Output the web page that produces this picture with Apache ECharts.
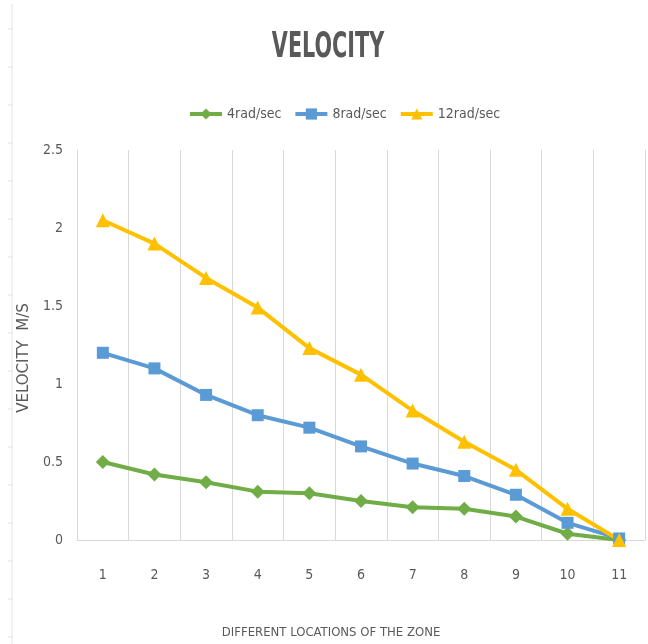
<!DOCTYPE html>
<html>
<head>
<meta charset="utf-8">
<script src="https://cdn.jsdelivr.net/npm/echarts@6/dist/echarts.min.js"></script>
<style>
  html, body { margin: 0; padding: 0; background: #fff; }
  #chart { width: 648px; height: 644px; }
</style>
</head>
<body>
<div id="chart"></div>
<script>
  // 數據：各區位置的速度 (m/s)
  var zones = ["1", "2", "3", "4", "5", "6", "7", "8", "9", "10", "11"];
  var v4 = [0.50, 0.42, 0.37, 0.31, 0.30, 0.25, 0.21, 0.20, 0.15, 0.04, 0.00];
  var v8 = [1.20, 1.10, 0.93, 0.80, 0.72, 0.60, 0.49, 0.41, 0.29, 0.11, 0.01];
  var v12 = [2.05, 1.90, 1.68, 1.49, 1.23, 1.06, 0.83, 0.63, 0.45, 0.20, 0.00];
  var seriesNames = ["4rad/sec", "8rad/sec", "12rad/sec"];

  var TXT = "#595959";
  var COND = "'DejaVu Sans Condensed', sans-serif";

  function line(name, data, color, symbol, size) {
    return {
      name: name, type: "line", data: data,
      symbol: symbol, symbolSize: size,
      lineStyle: { width: 4, color: color },
      itemStyle: { color: color }
    };
  }

  // 左側裝飾尺規 + 標題（窄體，用 scaleX 壓窄）
  var deco = [{ type: "line", shape: { x1: 12, y1: 4, x2: 12, y2: 644 }, style: { stroke: "#e3e3e3", lineWidth: 1 } }];
  for (var y = 29; y < 644; y += 38) {
    deco.push({ type: "line", shape: { x1: 8, y1: y, x2: 12, y2: y }, style: { stroke: "#e3e3e3", lineWidth: 1 } });
  }
  deco.push({
    type: "text", x: 328, y: 48, scaleX: 0.64,
    style: {
      text: "VELOCITY", fill: TXT, font: "bold 36px " + COND,
      align: "center", verticalAlign: "middle"
    }
  });

  var chart = echarts.init(document.getElementById("chart"), null, { renderer: "canvas" });
  chart.setOption({
    animation: false,
    graphic: deco,
    legend: {
      data: seriesNames, top: 102, left: 183,
      itemWidth: 32, itemHeight: 14, itemGap: 12,
      lineStyle: { width: 4 },
      textStyle: { color: TXT, fontSize: 14, fontFamily: COND }
    },
    grid: { left: 77, right: 3, top: 150, bottom: 99 },
    xAxis: {
      type: "category", data: zones, boundaryGap: true,
      name: "DIFFERENT LOCATIONS OF THE ZONE", nameLocation: "middle", nameGap: 86,
      nameTextStyle: { color: TXT, fontSize: 13, fontFamily: COND, padding: [0, 60, 0, 0] },
      axisLine: { lineStyle: { color: "#d9d9d9", width: 1 } },
      axisTick: { show: false },
      axisLabel: { color: TXT, fontSize: 14, fontFamily: COND, margin: 28 },
      splitLine: { show: true, lineStyle: { color: "#d9d9d9", width: 1 } }
    },
    yAxis: {
      type: "value", min: 0, max: 2.5, interval: 0.5,
      name: "VELOCITY  M/S", nameLocation: "middle", nameGap: 42,
      nameTextStyle: { color: TXT, fontSize: 15, fontFamily: "'DejaVu Sans', sans-serif", padding: [0, 26, 0, 0] },
      axisLine: { show: false }, axisTick: { show: false },
      axisLabel: { color: TXT, fontSize: 14, fontFamily: COND, margin: 14 },
      splitLine: { show: false }
    },
    series: [
      line(seriesNames[0], v4, "#70AD47", "diamond", 14),
      line(seriesNames[1], v8, "#5B9BD5", "rect", 12),
      line(seriesNames[2], v12, "#FFC000", "triangle", 14)
    ]
  });
</script>
</body>
</html>
